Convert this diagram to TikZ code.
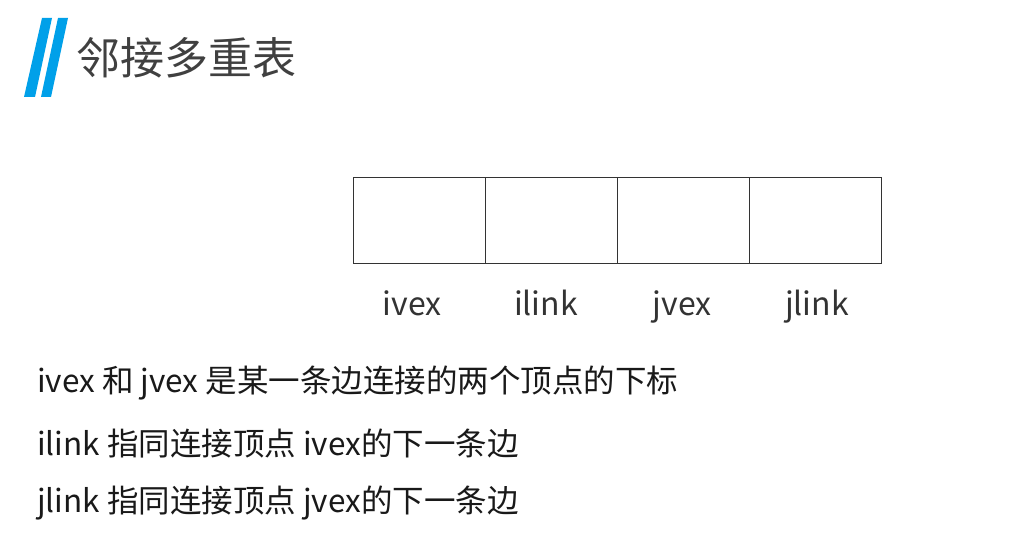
\documentclass[tikz,border=0pt]{standalone}
\usepackage{fontspec}
\setmainfont{Noto Sans CJK SC}
\definecolor{logo}{HTML}{00A0E9}
\definecolor{tx}{HTML}{333333}
\begin{document}
\begin{tikzpicture}[x=1pt,y=-1pt,
  cell/.style={draw=black!80,line width=0.9pt,minimum width=132pt,minimum height=86pt,inner sep=0pt,anchor=north west},
  lab/.style={font=\fontsize{32}{36}\selectfont,text=tx,anchor=base,inner sep=0pt},
  body/.style={font=\fontsize{31.5}{36}\selectfont,text=black!90,anchor=west,inner sep=0pt}]
\useasboundingbox[fill=white] (0,0) rectangle (1021,559);
\fill[logo] (42,18) -- (52,18) -- (35,97) -- (24,97) -- cycle;
\fill[logo] (58,18) -- (68,18) -- (51,97) -- (41,97) -- cycle;
\node[anchor=west,inner sep=0pt,font=\fontsize{44}{48}\selectfont,text=black!75] (title) at (76,58) {邻接多重表};
\node[cell] (c1) at (352.5,177) {};
\node[cell] (c2) at (485,177) {};
\node[cell] (c3) at (617,177) {};
\node[cell] (c4) at (749,177) {};
\node[lab] (l1) at (412,315) {ivex};
\node[lab] (l2) at (546,315) {ilink};
\node[lab] (l3) at (682,315) {jvex};
\node[lab] (l4) at (817,315) {jlink};
\node[body] (t1) at (37,383) {ivex 和 jvex 是某一条边连接的两个顶点的下标};
\node[body] (t2) at (37,443) {ilink 指同连接顶点 ivex的下一条边};
\node[body] (t3) at (37,503) {jlink 指同连接顶点 jvex的下一条边};
\end{tikzpicture}
\end{document}
